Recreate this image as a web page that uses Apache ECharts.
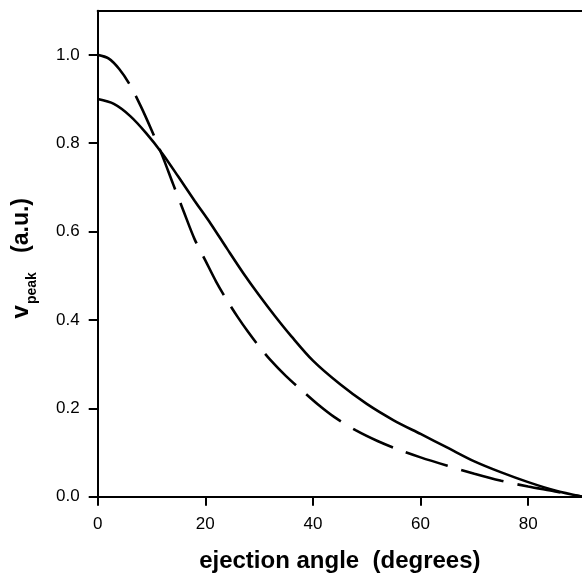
<!DOCTYPE html>
<html>
<head>
<meta charset="utf-8">
<script src="https://cdn.jsdelivr.net/npm/echarts@6/dist/echarts.min.js"></script>
<style>
  html, body { margin: 0; padding: 0; background: #fff; }
  #chart { width: 582px; height: 579px; }
</style>
</head>
<body>
<div id="chart"></div>
<script>
// Ejection angle (degrees) and peak velocity for the two models
const solidAngles = [0, 3, 6, 9, 12, 15, 18, 21, 24, 27, 30, 33, 36, 40, 45, 50, 55, 60, 65, 70, 75, 80, 85, 90];
const solidVpeak  = [0.900, 0.889, 0.862, 0.823, 0.777, 0.724, 0.670, 0.618, 0.562, 0.507, 0.456, 0.408, 0.363, 0.308, 0.255, 0.210, 0.173, 0.142, 0.111, 0.080, 0.055, 0.033, 0.014, 0.000];

const dashedAngles = [0, 2, 4, 6, 8, 10, 12, 14, 16, 18, 20, 22, 24, 26, 28, 30, 32, 35, 38, 41, 44, 48, 52, 56, 60, 65, 70, 75, 80, 85, 90];
const dashedVpeak  = [1.000, 0.992, 0.968, 0.932, 0.884, 0.830, 0.772, 0.708, 0.645, 0.583, 0.535, 0.487, 0.445, 0.407, 0.372, 0.340, 0.311, 0.273, 0.240, 0.208, 0.180, 0.150, 0.126, 0.106, 0.089, 0.070, 0.052, 0.036, 0.023, 0.012, 0.000];

const xTicks = [0, 20, 40, 60, 80];
const yTicks = [0, 0.2, 0.4, 0.6, 0.8, 1.0];

const pairs = (xs, ys) => xs.map((x, i) => [x, ys[i]]);

const font = '"Liberation Sans", Arial, Helvetica, sans-serif';
const chart = echarts.init(document.getElementById('chart'), null, { renderer: 'canvas' });

chart.setOption({
  animation: false,
  backgroundColor: '#ffffff',
  grid: { left: 97.7, top: 10.7, width: 486.3, height: 486 },
  xAxis: [{
    type: 'value', min: 0, max: 90, interval: 20,
    name: 'ejection angle  (degrees)',
    nameLocation: 'middle', nameGap: 53,
    nameTextStyle: { fontFamily: font, fontWeight: 'bold', fontSize: 24, color: '#000' },
    axisLine: { show: true, lineStyle: { color: '#000', width: 2 } },
    axisTick: { show: true, inside: false, length: 9, customValues: xTicks, lineStyle: { color: '#000', width: 2 } },
    axisLabel: { customValues: xTicks, margin: 19, fontFamily: font, fontSize: 17, color: '#000' },
    splitLine: { show: false }
  }, {
    type: 'value', min: 0, max: 90, position: 'top',
    axisLine: { show: true, onZero: false, lineStyle: { color: '#000', width: 2 } },
    axisTick: { show: false }, axisLabel: { show: false }, splitLine: { show: false }
  }],
  yAxis: {
    type: 'value', min: 0, max: 1.1, interval: 0.1,
    name: '{v|v}{sub|peak}{n|   (a.u.)}',
    nameLocation: 'middle', nameGap: 62, nameRotate: 90,
    nameTextStyle: {
      fontFamily: font, fontWeight: 'bold', color: '#000',
      padding: [0, 9, 0, 0],
      rich: {
        v: { fontFamily: font, fontWeight: 'bold', fontSize: 24, lineHeight: 26, verticalAlign: 'top', color: '#000' },
        n: { fontFamily: font, fontWeight: 'bold', fontSize: 23, lineHeight: 26, verticalAlign: 'top', color: '#000' },
        sub: { fontFamily: font, fontWeight: 'bold', fontSize: 14, lineHeight: 14, verticalAlign: 'top', padding: [15, 0, 0, 1], color: '#000' }
      }
    },
    axisLine: { show: true, lineStyle: { color: '#000', width: 2 } },
    axisTick: { show: true, inside: false, length: 9, customValues: yTicks, lineStyle: { color: '#000', width: 2 } },
    axisLabel: { customValues: yTicks, margin: 18, fontFamily: font, fontSize: 17, color: '#000', formatter: v => v.toFixed(1) },
    splitLine: { show: false }
  },
  series: [{
    type: 'line', data: pairs(solidAngles, solidVpeak), showSymbol: false,
    smooth: 0.3, clip: true,
    lineStyle: { color: '#000', width: 2.6 }
  }, {
    type: 'line', data: pairs(dashedAngles, dashedVpeak), showSymbol: false,
    smooth: 0.3, clip: true,
    lineStyle: { color: '#000', width: 2.6, type: [44, 14], cap: 'butt' }
  }]
});
</script>
</body>
</html>
